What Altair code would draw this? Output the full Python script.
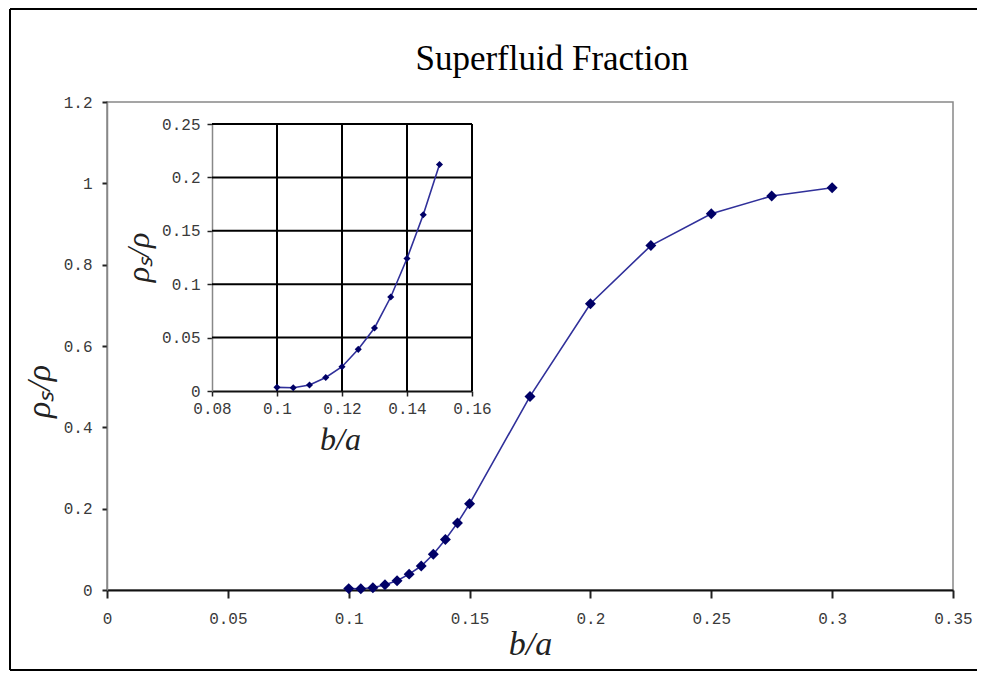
import altair as alt
import pandas as pd

# ---------------- data ----------------
ba_main = [0.100, 0.105, 0.110, 0.115, 0.120, 0.125, 0.130, 0.135, 0.140, 0.145, 0.150,
           0.175, 0.200, 0.225, 0.250, 0.275, 0.300]
rho_main = [0.0034, 0.0030, 0.0056, 0.0127, 0.0227, 0.039, 0.059, 0.088, 0.124, 0.165, 0.212,
            0.476, 0.704, 0.847, 0.925, 0.969, 0.989]
ba_inset = ba_main[:11]
rho_inset = rho_main[:11]

main_x_ticks = [0, 0.05, 0.1, 0.15, 0.2, 0.25, 0.3, 0.35]
main_y_ticks = [0, 0.2, 0.4, 0.6, 0.8, 1.0, 1.2]
inset_x_ticks = [0.08, 0.1, 0.12, 0.14, 0.16]
inset_y_ticks = [0, 0.05, 0.1, 0.15, 0.2, 0.25]

title_text = "Superfluid Fraction"
y_title = "ρₛ/ρ"
x_title = "b/a"

# ---------------- style ----------------
LINE = "#30309a"
MARK = "#000066"
LABEL_FONT = "Liberation Mono"
SERIF = "Liberation Serif"

W, H = 846, 488
IX0, IX1 = 105, 365      # inset x range (plot pixels)
IY0, IY1 = 289, 22       # inset y range (plot pixels)

main_df = pd.DataFrame({"ba": ba_main, "rho": rho_main})
inset_df = pd.DataFrame({"bi": ba_inset, "ri": rho_inset})
vgrid = pd.DataFrame({"gx": inset_x_ticks[1:], "y0": min(inset_y_ticks), "y1": max(inset_y_ticks)})
hgrid = pd.DataFrame({"gy": inset_y_ticks[1:], "x0": min(inset_x_ticks), "x1": max(inset_x_ticks)})

common = dict(labelFont=LABEL_FONT, labelFontSize=16, labelColor="#3a3a3a", labelFontWeight="normal",
              labelOverlap=False, labelFlush=False, labelBound=False,
              titleFont=SERIF, titleFontStyle="italic", titleFontWeight="normal",
              titleColor="#222", grid=False, tickColor="#222")

# main axes
mx = alt.X("ba:Q", scale=alt.Scale(domain=[0, 0.35], nice=False, zero=False),
           axis=alt.Axis(values=main_x_ticks, format="~g", title=x_title,
                         domainColor="#111", domainWidth=2, tickSize=8, tickWidth=2,
                         labelPadding=12, titleX=423, titleY=54, titleAlign="center",
                         titleBaseline="middle", titleAngle=0, titleFontSize=34, **common))
my = alt.Y("rho:Q", scale=alt.Scale(domain=[0, 1.2], nice=False, zero=False),
           axis=alt.Axis(values=main_y_ticks, format="~g", title=y_title,
                         domainColor="#888", domainWidth=1.5, tickSize=5, tickWidth=2,
                         labelPadding=10, titleX=-68, titleY=289, titleAlign="center",
                         titleBaseline="middle", titleAngle=-90, titleFontSize=34, **common))

main_line = alt.Chart(main_df).mark_line(color=LINE, strokeWidth=1.6).encode(x=mx, y=my)
main_pts = alt.Chart(main_df).mark_point(shape="diamond", filled=True, size=120,
                                         color=MARK, opacity=1).encode(x=mx, y=my)
main_layer = alt.layer(main_line, main_pts)

# inset axes
ix_scale = alt.Scale(domain=[0.08, 0.16], range=[IX0, IX1], nice=False, zero=False)
iy_scale = alt.Scale(domain=[0, 0.25], range=[IY0, IY1], nice=False, zero=False)
ix_axis = alt.Axis(values=inset_x_ticks, format="~g", title=x_title, orient="bottom",
                   offset=-(H - IY0), domainColor="#111", domainWidth=2, tickSize=5,
                   tickWidth=1.5, labelPadding=4, titleX=233, titleY=48, titleAlign="center",
                   titleBaseline="middle", titleAngle=0, titleFontSize=32, **common)
iy_axis = alt.Axis(values=inset_y_ticks, format="~g", title=y_title, orient="left",
                   offset=-IX0, domainColor="#888", domainWidth=1.5, tickSize=5,
                   tickWidth=1.5, labelPadding=7, titleX=-74, titleY=155, titleAlign="center",
                   titleBaseline="middle", titleAngle=-90, titleFontSize=32, **common)

vrules = alt.Chart(vgrid).mark_rule(color="black", strokeWidth=2).encode(
    x=alt.X("gx:Q", scale=ix_scale, axis=ix_axis),
    y=alt.Y("y0:Q", scale=iy_scale, axis=iy_axis), y2="y1:Q")
hrules = alt.Chart(hgrid).mark_rule(color="black", strokeWidth=2).encode(
    y=alt.Y("gy:Q", scale=iy_scale, axis=iy_axis),
    x=alt.X("x0:Q", scale=ix_scale, axis=ix_axis), x2="x1:Q")
inset_line = alt.Chart(inset_df).mark_line(color=LINE, strokeWidth=1.6).encode(
    x=alt.X("bi:Q", scale=ix_scale, axis=ix_axis),
    y=alt.Y("ri:Q", scale=iy_scale, axis=iy_axis))
inset_pts = alt.Chart(inset_df).mark_point(shape="diamond", filled=True, size=50,
                                           color=MARK, opacity=1).encode(
    x=alt.X("bi:Q", scale=ix_scale, axis=ix_axis),
    y=alt.Y("ri:Q", scale=iy_scale, axis=iy_axis))
inset_layer = alt.layer(vrules, hrules, inset_line, inset_pts)

# decorations: outer frame + title
frame_l = alt.Chart().mark_rule(color="black", strokeWidth=2).encode(
    x=alt.value(-97), y=alt.value(-93), y2=alt.value(568))
frame_t = alt.Chart().mark_rule(color="black", strokeWidth=2).encode(
    x=alt.value(-97), x2=alt.value(870), y=alt.value(-93))
frame_b = alt.Chart().mark_rule(color="black", strokeWidth=2).encode(
    x=alt.value(-97), x2=alt.value(870), y=alt.value(568))
title = alt.Chart().mark_text(text=title_text, font=SERIF, fontSize=35, align="center",
                              baseline="alphabetic", color="black").encode(
    x=alt.value(445), y=alt.value(-32))

chart = alt.layer(main_layer, inset_layer, frame_l, frame_t, frame_b, title).resolve_scale(
    x="independent", y="independent"
).properties(
    width=W, height=H,
    autosize=alt.AutoSizeParams(type="none"),
    padding={"left": 99, "top": 94, "right": 25, "bottom": 81},
    background="white",
).configure_view(stroke="#888", strokeWidth=1.5)

chart.save("out.html", embed_options={"renderer": "svg", "actions": False})
